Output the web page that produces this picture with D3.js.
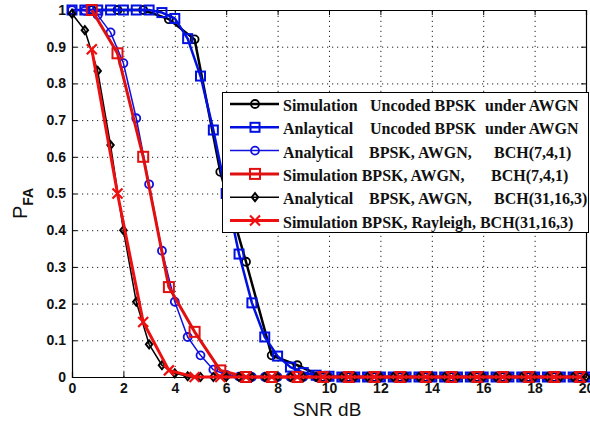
<!DOCTYPE html>
<html>
<head>
<meta charset="utf-8">
<script src="https://cdn.jsdelivr.net/npm/d3@7"></script>
<style>
  body { margin: 0; background: #fff; }
  .tick text { font-family: "Liberation Sans", Arial, sans-serif; font-weight: bold; font-size: 14px; fill: #111; }
  .grid line { stroke: #222; stroke-dasharray: 1.2, 3.8; }
  .grid .domain { display: none; }
  .legend text { font-family: "Liberation Serif", "Times New Roman", serif; font-weight: bold; font-size: 16px; fill: #111; white-space: pre; }
</style>
</head>
<body>
<svg width="590" height="425"></svg>
<script>
// x grids (SNR dB)
const xAnalytic = [0,0.5,1,1.5,2,2.5,3,3.5,4,4.5,5,5.5,6,6.5,7,7.5,8,8.5,9,9.5,10,
  10.5,11,11.5,12,12.5,13,13.5,14,14.5,15,15.5,16,16.5,17,17.5,18,18.5,19,19.5,20];
const xSim = [0.77,1.77,2.77,3.77,4.77,5.77,6.77,7.77,8.77,9.77,10.77,11.77,12.77,13.77,
  14.77,15.77,16.77,17.77,18.77,19.77];

// P_FA values
const simUncoded = [1,1,1,0.975,0.92,0.559,0.314,0.059,0.032,0,0,0,0,0,0,0,0,0,0,0];
const anaUncoded = [1,1,1,1,1,1,1,0.993,0.977,0.922,0.82,0.673,0.5,0.335,0.202,0.109,0.057,0.027,0.012,0.005,0.002,
  0,0,0,0,0,0,0,0,0,0,0,0,0,0,0,0,0,0,0,0];
const anaBch7 = [1,0.998,0.986,0.939,0.855,0.705,0.525,0.344,0.205,0.109,0.059,0.02,0.006,0.001,0,0,0,0,0,0,0,
  0,0,0,0,0,0,0,0,0,0,0,0,0,0,0,0,0,0,0,0];
const simBch7 = [1,0.882,0.6,0.245,0.123,0.018,0,0,0,0,0,0,0,0,0,0,0,0,0,0];
const anaBch31 = [0.99,0.945,0.834,0.632,0.4,0.205,0.089,0.032,0.01,0.002,0,0,0,0,0,0,0,0,0,0,0,
  0,0,0,0,0,0,0,0,0,0,0,0,0,0,0,0,0,0,0,0];
const simRayleigh = [0.893,0.5,0.15,0.018,0,0,0,0,0,0,0,0,0,0,0,0,0,0,0,0];

const xTicks = [0,2,4,6,8,10,12,14,16,18,20];
const yTicks = [0,0.1,0.2,0.3,0.4,0.5,0.6,0.7,0.8,0.9,1];

const series = [
  { xs: xSim, ys: simUncoded, color: '#000', width: 2.5, marker: 'circle', size: 4,
    label: [['Simulation', 0], ['Uncoded BPSK', 87], ['under AWGN', 202]] },
  { xs: xAnalytic, ys: anaUncoded, color: '#0010e0', width: 2.5, marker: 'square', size: 9,
    label: [['Anlaytical', 0], ['Uncoded BPSK', 87], ['under AWGN', 202]] },
  { xs: xAnalytic, ys: anaBch7, color: '#1010e0', width: 1.5, marker: 'circle', size: 4,
    label: [['Analytical', 0], ['BPSK, AWGN,', 86], ['BCH(7,4,1)', 211]] },
  { xs: xSim, ys: simBch7, color: '#e01010', width: 3, marker: 'square', size: 10,
    label: [['Simulation BPSK, AWGN,', 0], ['BCH(7,4,1)', 208]] },
  { xs: xAnalytic, ys: anaBch31, color: '#000', width: 1.5, marker: 'diamond', size: 4,
    label: [['Analytical', 0], ['BPSK, AWGN,', 86], ['BCH(31,16,3)', 211]] },
  { xs: xSim, ys: simRayleigh, color: '#ee1010', width: 3, marker: 'x', size: 5,
    label: [['Simulation BPSK, Rayleigh, BCH(31,16,3)', 0]] }
];

const svg = d3.select('svg');
const mLeft = 72, mRight = 586, mTop = 10, mBottom = 377;

const x = d3.scaleLinear().domain([0, 20]).range([mLeft, mRight]);
const y = d3.scaleLinear().domain([0, 1]).range([mBottom, mTop]);

// grid
svg.append('g').attr('class', 'grid')
  .attr('transform', `translate(0,${mBottom})`)
  .call(d3.axisBottom(x).tickValues(xTicks).tickSize(-(mBottom - mTop)).tickFormat(''));
svg.append('g').attr('class', 'grid')
  .attr('transform', `translate(${mLeft},0)`)
  .call(d3.axisLeft(y).tickValues(yTicks).tickSize(-(mRight - mLeft)).tickFormat(''));

// axes with labels
svg.append('g').attr('class', 'axis')
  .attr('transform', `translate(0,${mBottom})`)
  .call(d3.axisBottom(x).tickValues(xTicks).tickSize(-5).tickPadding(6).tickFormat(d3.format('~g')));
svg.append('g').attr('class', 'axis')
  .attr('transform', `translate(${mLeft},0)`)
  .call(d3.axisLeft(y).tickValues(yTicks).tickSize(-5).tickPadding(6).tickFormat(d3.format('~g')));
svg.append('g').attr('class', 'axis').attr('transform', `translate(0,${mTop})`)
  .call(d3.axisTop(x).tickValues(xTicks).tickSize(-5).tickFormat(''));
svg.append('g').attr('class', 'axis').attr('transform', `translate(${mRight},0)`)
  .call(d3.axisRight(y).tickValues(yTicks).tickSize(-5).tickFormat(''));
svg.selectAll('.axis .domain').attr('stroke', '#000').attr('stroke-width', 1.2);
svg.selectAll('.axis .tick line').attr('stroke', '#000');

const drawMarker = (sel, m, size, color) => {
  if (m === 'circle') {
    sel.append('circle').attr('r', size).attr('fill', 'none')
      .attr('stroke', color).attr('stroke-width', 1.8);
  } else if (m === 'square') {
    sel.append('rect').attr('x', -size / 2).attr('y', -size / 2)
      .attr('width', size).attr('height', size).attr('fill', 'none')
      .attr('stroke', color).attr('stroke-width', 2);
  } else if (m === 'diamond') {
    sel.append('path').attr('d', `M0,${-size}L${size * 0.8},0L0,${size}L${-size * 0.8},0Z`)
      .attr('fill', 'none').attr('stroke', color).attr('stroke-width', 2);
  } else {
    sel.append('path').attr('d', `M${-size},${-size}L${size},${size}M${-size},${size}L${size},${-size}`)
      .attr('stroke', color).attr('stroke-width', 2.2);
  }
};

const line = d3.line().x(d => x(d[0])).y(d => y(d[1]));

series.forEach(s => {
  const pts = s.xs.map((v, i) => [v, s.ys[i]]);
  svg.append('path').datum(pts)
    .attr('d', line)
    .attr('fill', 'none')
    .attr('stroke', s.color)
    .attr('stroke-width', s.width)
    .attr('stroke-linejoin', 'round');
  svg.append('g').selectAll('g').data(pts)
    .enter().append('g')
    .attr('transform', d => `translate(${x(d[0])},${y(d[1])})`)
    .each(function () { drawMarker(d3.select(this), s.marker, s.size, s.color); });
});

// legend
const legend = svg.append('g').attr('class', 'legend');
legend.append('rect')
  .attr('x', 222.5).attr('y', 92.5).attr('width', 366).attr('height', 140)
  .attr('fill', '#fff').attr('stroke', '#000').attr('stroke-width', 1);

series.forEach((s, i) => {
  const ly = 104 + i * 23.3;
  const row = legend.append('g');
  row.append('line').attr('x1', 230).attr('x2', 279).attr('y1', ly).attr('y2', ly)
    .attr('stroke', s.color).attr('stroke-width', s.width);
  drawMarker(row.append('g').attr('transform', `translate(255,${ly})`), s.marker, s.size, s.color);
  const t = row.append('text').attr('y', ly + 7);
  s.label.forEach(([txt, dx]) => t.append('tspan').attr('x', 283 + dx).text(txt));
});

// axis titles
svg.append('text')
  .attr('x', 327).attr('y', 416)
  .attr('text-anchor', 'middle')
  .attr('font-family', '"Liberation Sans", Arial, sans-serif')
  .attr('font-size', 19)
  .attr('fill', '#111')
  .text('SNR dB');

const yt = svg.append('text')
  .attr('transform', 'translate(27,219) rotate(-90)')
  .attr('font-family', '"Liberation Sans", Arial, sans-serif')
  .attr('fill', '#111');
yt.append('tspan').attr('font-size', 20).text('P');
yt.append('tspan').attr('font-size', 14).attr('font-weight', 'bold').attr('dy', 6).text('FA');
</script>
</body>
</html>
